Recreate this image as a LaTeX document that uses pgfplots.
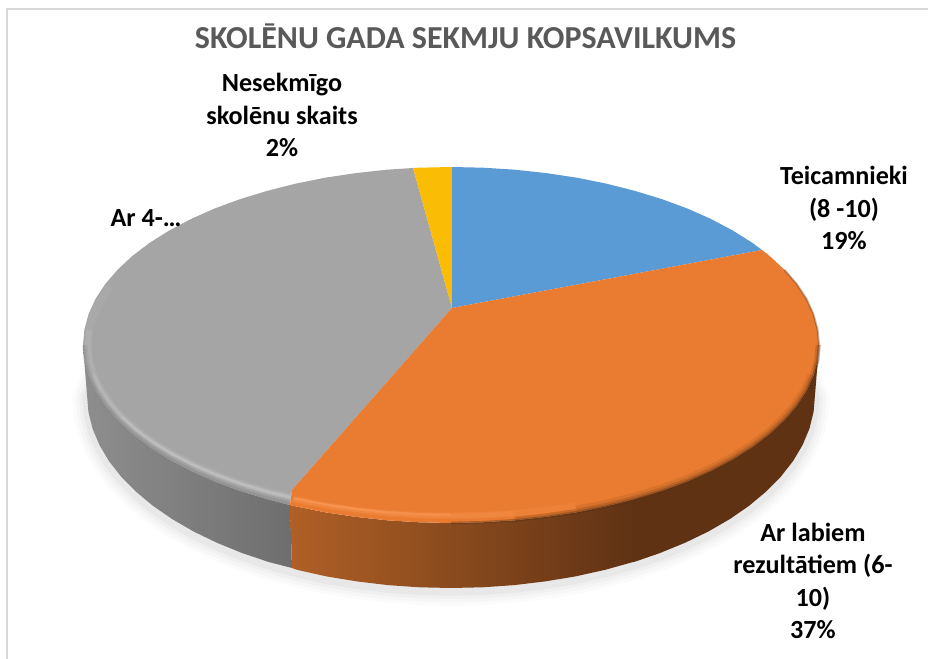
\documentclass[border=0pt]{standalone}
\usepackage{pgfplots}
\usepackage{pgfplotstable}
\usepackage{fontspec}
\setmainfont{Carlito}
\pgfplotsset{compat=1.18}
\definecolor{cblue}{RGB}{91,155,213}
\definecolor{corange}{RGB}{233,124,48}
\definecolor{cgray}{RGB}{165,165,165}
\definecolor{cyellow}{RGB}{251,188,5}
\definecolor{cbrown}{RGB}{95,50,20}
\definecolor{ctitle}{RGB}{89,89,89}
\definecolor{chigh}{RGB}{255,160,95}
\definecolor{cside}{RGB}{125,125,125}
% rim of the top face on the grey slice: upper left, then lower left
\pgfplotstableread{
x y
105.2 284.1
95.5 298.9
88.6 314.1
84.4 329.5
83 345
84.4 360.5
88.6 375.9
95.5 391.1
105.2 405.9
117.5 420.2
132.3 434
149.5 447.1
169.1 459.4
190.8 470.9
214.4 481.4
239.9 490.8
267 499.1
289 504.5
}\rimgray
% rim of the top face on the orange slice, left to right
\pgfplotstableread{
x y
291.5 505.2
295.5 506.3
325.1 512.3
355.8 516.9
387.1 520.3
418.9 522.3
451 523
483.1 522.3
514.9 520.3
546.2 516.9
576.9 512.3
606.5 506.3
635 499.1
662.1 490.8
687.6 481.4
711.2 470.9
732.9 459.4
752.5 447.1
769.7 434
784.5 420.2
796.8 405.9
806.5 391.1
813.4 375.9
817.6 360.5
819 345
}\rimlow
% lower edge of the side, with its ends hidden behind the top face
\pgfplotstableread{
x y
102 342
98 370
87 395
88.4 411.8
92.5 428.5
99.4 445
108.9 461
121.1 476.6
135.8 491.5
152.8 505.7
172.2 519.1
193.6 531.5
217 542.8
242.2 553.1
269 562.1
297.2 569.9
326.5 576.4
356.8 581.4
387.8 585.1
419.3 587.3
451 588
482.7 587.3
514.2 585.1
545.2 581.4
575.5 576.4
604.8 569.9
633 562.1
659.8 553.1
685 542.8
708.4 531.5
729.8 519.1
749.2 505.7
766.2 491.5
780.9 476.6
793.1 461
802.6 445
809.5 428.5
813.6 411.8
815 395
804 370
800 342
}\sidelow
\begin{document}
\begin{tikzpicture}
\begin{axis}[scale only axis,width=696pt,height=494.25pt,
  xmin=0,xmax=928,ymin=0,ymax=659,y dir=reverse,hide axis,clip=true]
% background and frame
\addplot[fill=white,draw=none] coordinates {(0,0)(928,0)(928,659)(0,659)} -- cycle;
\addplot[draw=black!15,line width=1.5pt] coordinates {(7,659)(7,9.5)(928,9.5)};
% shadow
\addplot[draw=black,opacity=0.015,line width=22pt,line join=round] table[x=x,y expr=\thisrow{y}+3] {\sidelow};
\addplot[draw=black,opacity=0.02,line width=17pt,line join=round] table[x=x,y expr=\thisrow{y}+3] {\sidelow};
\addplot[draw=black,opacity=0.025,line width=12pt,line join=round] table[x=x,y expr=\thisrow{y}+3] {\sidelow};
\addplot[draw=black,opacity=0.03,line width=7pt,line join=round] table[x=x,y expr=\thisrow{y}+3] {\sidelow};
% side, grey
\addplot[draw=none,left color={rgb,255:red,142;green,142;blue,142},right color={rgb,255:red,110;green,110;blue,110}] coordinates {
(83,345)(84.4,360.5)(88.6,375.9)(95.5,391.1)(105.2,405.9)(117.5,420.2)(132.3,434)(149.5,447.1)(169.1,459.4)(190.8,470.9)(214.4,481.4)(239.9,490.8)(267,499.1)(290,505)(292,568)(269,562.1)(242.2,553.1)(217,542.8)(193.6,531.5)(172.2,519.1)(152.8,505.7)(135.8,491.5)(121.1,476.6)(108.9,461)(99.4,445)(92.5,428.5)(88.4,411.8)(87,395)} -- cycle;
% side, orange
\addplot[draw=none,left color={rgb,255:red,176;green,96;blue,38},right color=cbrown] coordinates {
(290,505)(295.5,506.3)(325.1,512.3)(355.8,516.9)(387.1,520.3)(418.9,522.3)(451,523)(483.1,522.3)(514.9,520.3)(546.2,516.9)(576.9,512.3)(606.5,506.3)(635,499.1)(635,561.5)(604.8,569.9)(575.5,576.4)(545.2,581.4)(514.2,585.1)(482.7,587.3)(451,588)(419.3,587.3)(387.8,585.1)(356.8,581.4)(326.5,576.4)(297.2,569.9)(292,568)} -- cycle;
\addplot[draw=none,fill=cbrown] coordinates {
(634,499.1)(662.1,490.8)(687.6,481.4)(711.2,470.9)(732.9,459.4)(752.5,447.1)(769.7,434)(784.5,420.2)(796.8,405.9)(806.5,391.1)(813.4,375.9)(817.6,360.5)(819,345)(815,395)(813.6,411.8)(809.5,428.5)(802.6,445)(793.1,461)(780.9,476.6)(766.2,491.5)(749.2,505.7)(729.8,519.1)(708.4,531.5)(685,542.8)(659.8,553.1)(634,562)} -- cycle;
% top face
\addplot[draw=none,fill=cgray] coordinates {
(452,308)(292,490)(290,505)(267,499.1)(239.9,490.8)(214.4,481.4)(190.8,470.9)(169.1,459.4)(149.5,447.1)(132.3,434)(117.5,420.2)(105.2,405.9)(95.5,391.1)(88.6,375.9)(84.4,360.5)(83,345)(84.4,329.5)(88.6,314.1)(95.5,298.9)(105.2,284.1)(117.5,269.8)(132.3,256)(149.5,242.9)(169.1,230.6)(190.8,219.1)(214.4,208.6)(239.9,199.2)(267,190.9)(295.5,183.7)(325.1,177.7)(355.8,173.1)(387.1,169.7)(413,168)} -- cycle;
\addplot[draw=none,fill=cyellow] coordinates {
(452,308)(413,168)(418.9,167.7)(452,167)} -- cycle;
\addplot[draw=none,fill=cblue] coordinates {
(452,308)(452,167)(483.1,167.7)(514.9,169.7)(546.2,173.1)(576.9,177.7)(606.5,183.7)(635,190.9)(662.1,199.2)(687.6,208.6)(711.2,219.1)(732.9,230.6)(752.5,242.9)(762,250)} -- cycle;
\addplot[draw=none,fill=corange] coordinates {
(452,308)(762,250)(769.7,256)(784.5,269.8)(796.8,284.1)(806.5,298.9)(813.4,314.1)(817.6,329.5)(819,345)(817.6,360.5)(813.4,375.9)(806.5,391.1)(796.8,405.9)(784.5,420.2)(769.7,434)(752.5,447.1)(732.9,459.4)(711.2,470.9)(687.6,481.4)(662.1,490.8)(635,499.1)(606.5,506.3)(576.9,512.3)(546.2,516.9)(514.9,520.3)(483.1,522.3)(451,523)(418.9,522.3)(387.1,520.3)(355.8,516.9)(325.1,512.3)(295.5,506.3)(290,505)(292,490)} -- cycle;
% bevel, grey: lower edge blends into the side, then layered highlights
\addplot[draw=cside,opacity=0.20,line width=4pt,restrict x to domain=83:290] table[x expr=451+(\thisrow{x}-451)*0.995,y expr=345+(\thisrow{y}-345)*0.99,restrict y to domain=345:510] {\rimgray};
\addplot[draw=cside,opacity=0.25,line width=2pt,restrict x to domain=83:290] table[x expr=451+(\thisrow{x}-451)*0.997,y expr=345+(\thisrow{y}-345)*0.995,restrict y to domain=345:510] {\rimgray};
\addplot[draw=white,opacity=0.05,line width=6pt] table[x expr=451+(\thisrow{x}-451)*0.987,y expr=345+(\thisrow{y}-345)*0.955] {\rimgray};
\addplot[draw=white,opacity=0.07,line width=4pt,restrict y to domain=325:510] table[x expr=451+(\thisrow{x}-451)*0.987,y expr=345+(\thisrow{y}-345)*0.955] {\rimgray};
\addplot[draw=white,opacity=0.09,line width=2.5pt,restrict y to domain=360:510] table[x expr=451+(\thisrow{x}-451)*0.987,y expr=345+(\thisrow{y}-345)*0.955] {\rimgray};
\addplot[draw=white,opacity=0.12,line width=1.2pt,restrict y to domain=410:510] table[x expr=451+(\thisrow{x}-451)*0.987,y expr=345+(\thisrow{y}-345)*0.955] {\rimgray};
% bevel, orange highlight, fading to the right
\addplot[draw=chigh,opacity=0.16,line width=5pt,restrict x to domain=291:590] table[x expr=451+(\thisrow{x}-451)*0.987,y expr=345+(\thisrow{y}-345)*0.96] {\rimlow};
\addplot[draw=chigh,opacity=0.22,line width=3.5pt,restrict x to domain=291:530] table[x expr=451+(\thisrow{x}-451)*0.987,y expr=345+(\thisrow{y}-345)*0.96] {\rimlow};
\addplot[draw=chigh,opacity=0.30,line width=2pt,restrict x to domain=291:470] table[x expr=451+(\thisrow{x}-451)*0.987,y expr=345+(\thisrow{y}-345)*0.955] {\rimlow};
\addplot[draw=chigh,opacity=0.35,line width=1pt,restrict x to domain=291:400] table[x expr=451+(\thisrow{x}-451)*0.987,y expr=345+(\thisrow{y}-345)*0.955] {\rimlow};
% bevel, orange shadow, growing to the right
\addplot[draw=cbrown,opacity=0.12,line width=6pt,restrict x to domain=550:815] table[x expr=451+(\thisrow{x}-451)*0.995,y expr=345+(\thisrow{y}-345)*0.985] {\rimlow};
\addplot[draw=cbrown,opacity=0.22,line width=4pt,restrict x to domain=490:819] table[x expr=451+(\thisrow{x}-451)*0.998,y expr=345+(\thisrow{y}-345)*0.995] {\rimlow};
\addplot[draw=cbrown,opacity=0.40,line width=2pt,restrict x to domain=430:819] table[x=x,y=y] {\rimlow};
\addplot[draw=cbrown,opacity=0.35,line width=1.5pt] coordinates {(784.5,269.8)(796.8,284.1)(806.5,298.9)(813.4,314.1)(817.6,329.5)(819,345)};
% labels
\node[anchor=center,text=ctitle,font=\fontsize{24}{28}\selectfont\bfseries] at (axis cs:465.5,36) {SKOLĒNU GADA SEKMJU KOPSAVILKUMS};
\node[anchor=center,align=center,font=\fontsize{19.6}{24.2}\selectfont\bfseries] at (axis cs:282,115) {Nesekmīgo\\skolēnu skaits\\2\%};
\node[anchor=center,align=center,font=\fontsize{19.6}{24.2}\selectfont\bfseries] at (axis cs:844,208) {Teicamnieki\\(8 -10)\\19\%};
\node[anchor=center,align=center,font=\fontsize{19.6}{24.2}\selectfont\bfseries] at (axis cs:146,218) {Ar 4-…};
\node[anchor=center,align=center,font=\fontsize{19.6}{24.2}\selectfont\bfseries] at (axis cs:813,581) {Ar labiem\\rezultātiem (6-\\10)\\37\%};
\end{axis}
\end{tikzpicture}
\end{document}
